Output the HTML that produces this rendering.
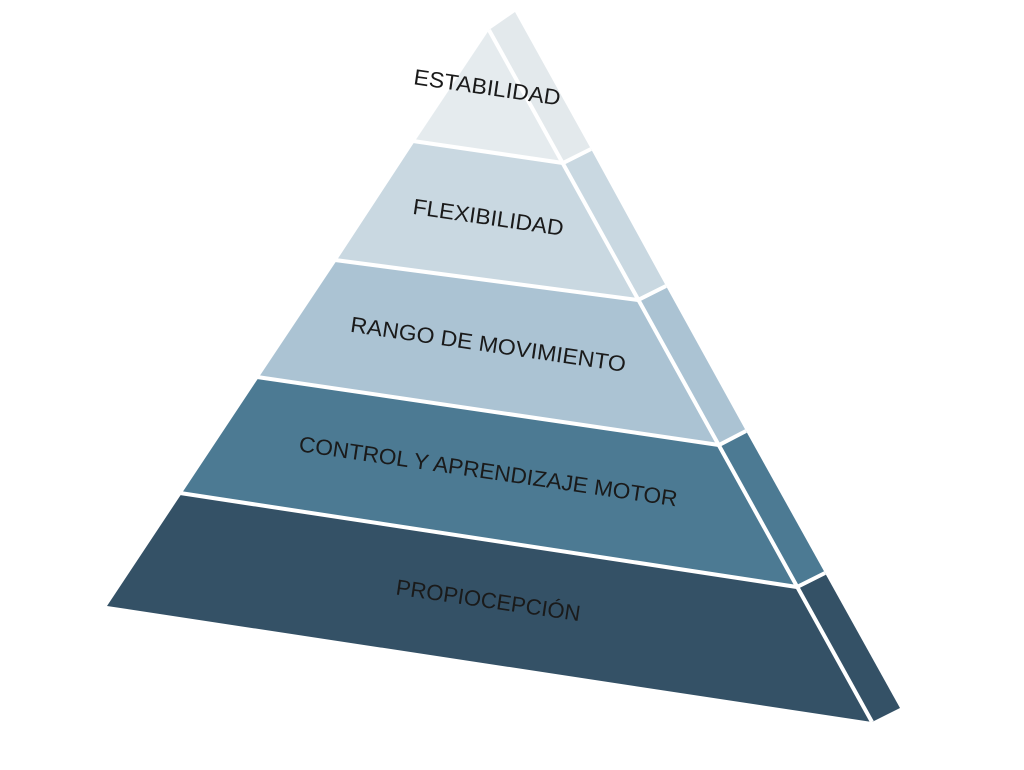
<!DOCTYPE html>
<html><head><style>html,body{margin:0;padding:0;background:#fff;width:1024px;height:770px;overflow:hidden}</style></head>
<body>
<svg width="1024" height="770" viewBox="0 0 1024 770" xmlns="http://www.w3.org/2000/svg">
<g stroke="none">
<polygon points="489,30 563,163 415,141" fill="#e5ebee"/>
<polygon points="415,141 563,163 638,300 337,260" fill="#c9d8e1"/>
<polygon points="337,260 638,300 719,445 259,377" fill="#abc3d3"/>
<polygon points="259,377 719,445 797,587 182,493" fill="#4c7a93"/>
<polygon points="182,493 797,587 872,722 107,606" fill="#345166"/>
<polygon points="489,30 515,12 591,149 563,163" fill="#e3e9ec"/>
<polygon points="563,163 591,149 666,286 638,300" fill="#c9d8e1"/>
<polygon points="638,300 666,286 746,431 719,445" fill="#abc3d3"/>
<polygon points="719,445 746,431 825,573 797,587" fill="#4c7a93"/>
<polygon points="797,587 825,573 900,708 872,722" fill="#345166"/>
</g>
<g stroke="#fff" stroke-width="4" fill="none">
<line x1="489" y1="30" x2="872" y2="722"/>
<polyline points="413,141 563,163 591,149"/>
<polyline points="335,260 638,300 666,286"/>
<polyline points="257,377 719,445 746,431"/>
<polyline points="180,493 797,587 825,573"/>
</g>
<g font-family="Liberation Sans, sans-serif" font-size="22" fill="#1a1a1a" text-anchor="middle">
<text transform="translate(487,89) rotate(8.3)" dominant-baseline="middle" textLength="148" lengthAdjust="spacingAndGlyphs">ESTABILIDAD</text>
<text transform="translate(488,219) rotate(8.3)" dominant-baseline="middle" textLength="152" lengthAdjust="spacingAndGlyphs">FLEXIBILIDAD</text>
<text transform="translate(488,346) rotate(8.3)" dominant-baseline="middle" textLength="278" lengthAdjust="spacingAndGlyphs">RANGO DE MOVIMIENTO</text>
<text transform="translate(488,473) rotate(8.3)" dominant-baseline="middle" textLength="382" lengthAdjust="spacingAndGlyphs">CONTROL Y APRENDIZAJE MOTOR</text>
<text transform="translate(488,602) rotate(8.3)" dominant-baseline="middle" textLength="186" lengthAdjust="spacingAndGlyphs">PROPIOCEPCIÓN</text>
</g>
</svg>
</body></html>
